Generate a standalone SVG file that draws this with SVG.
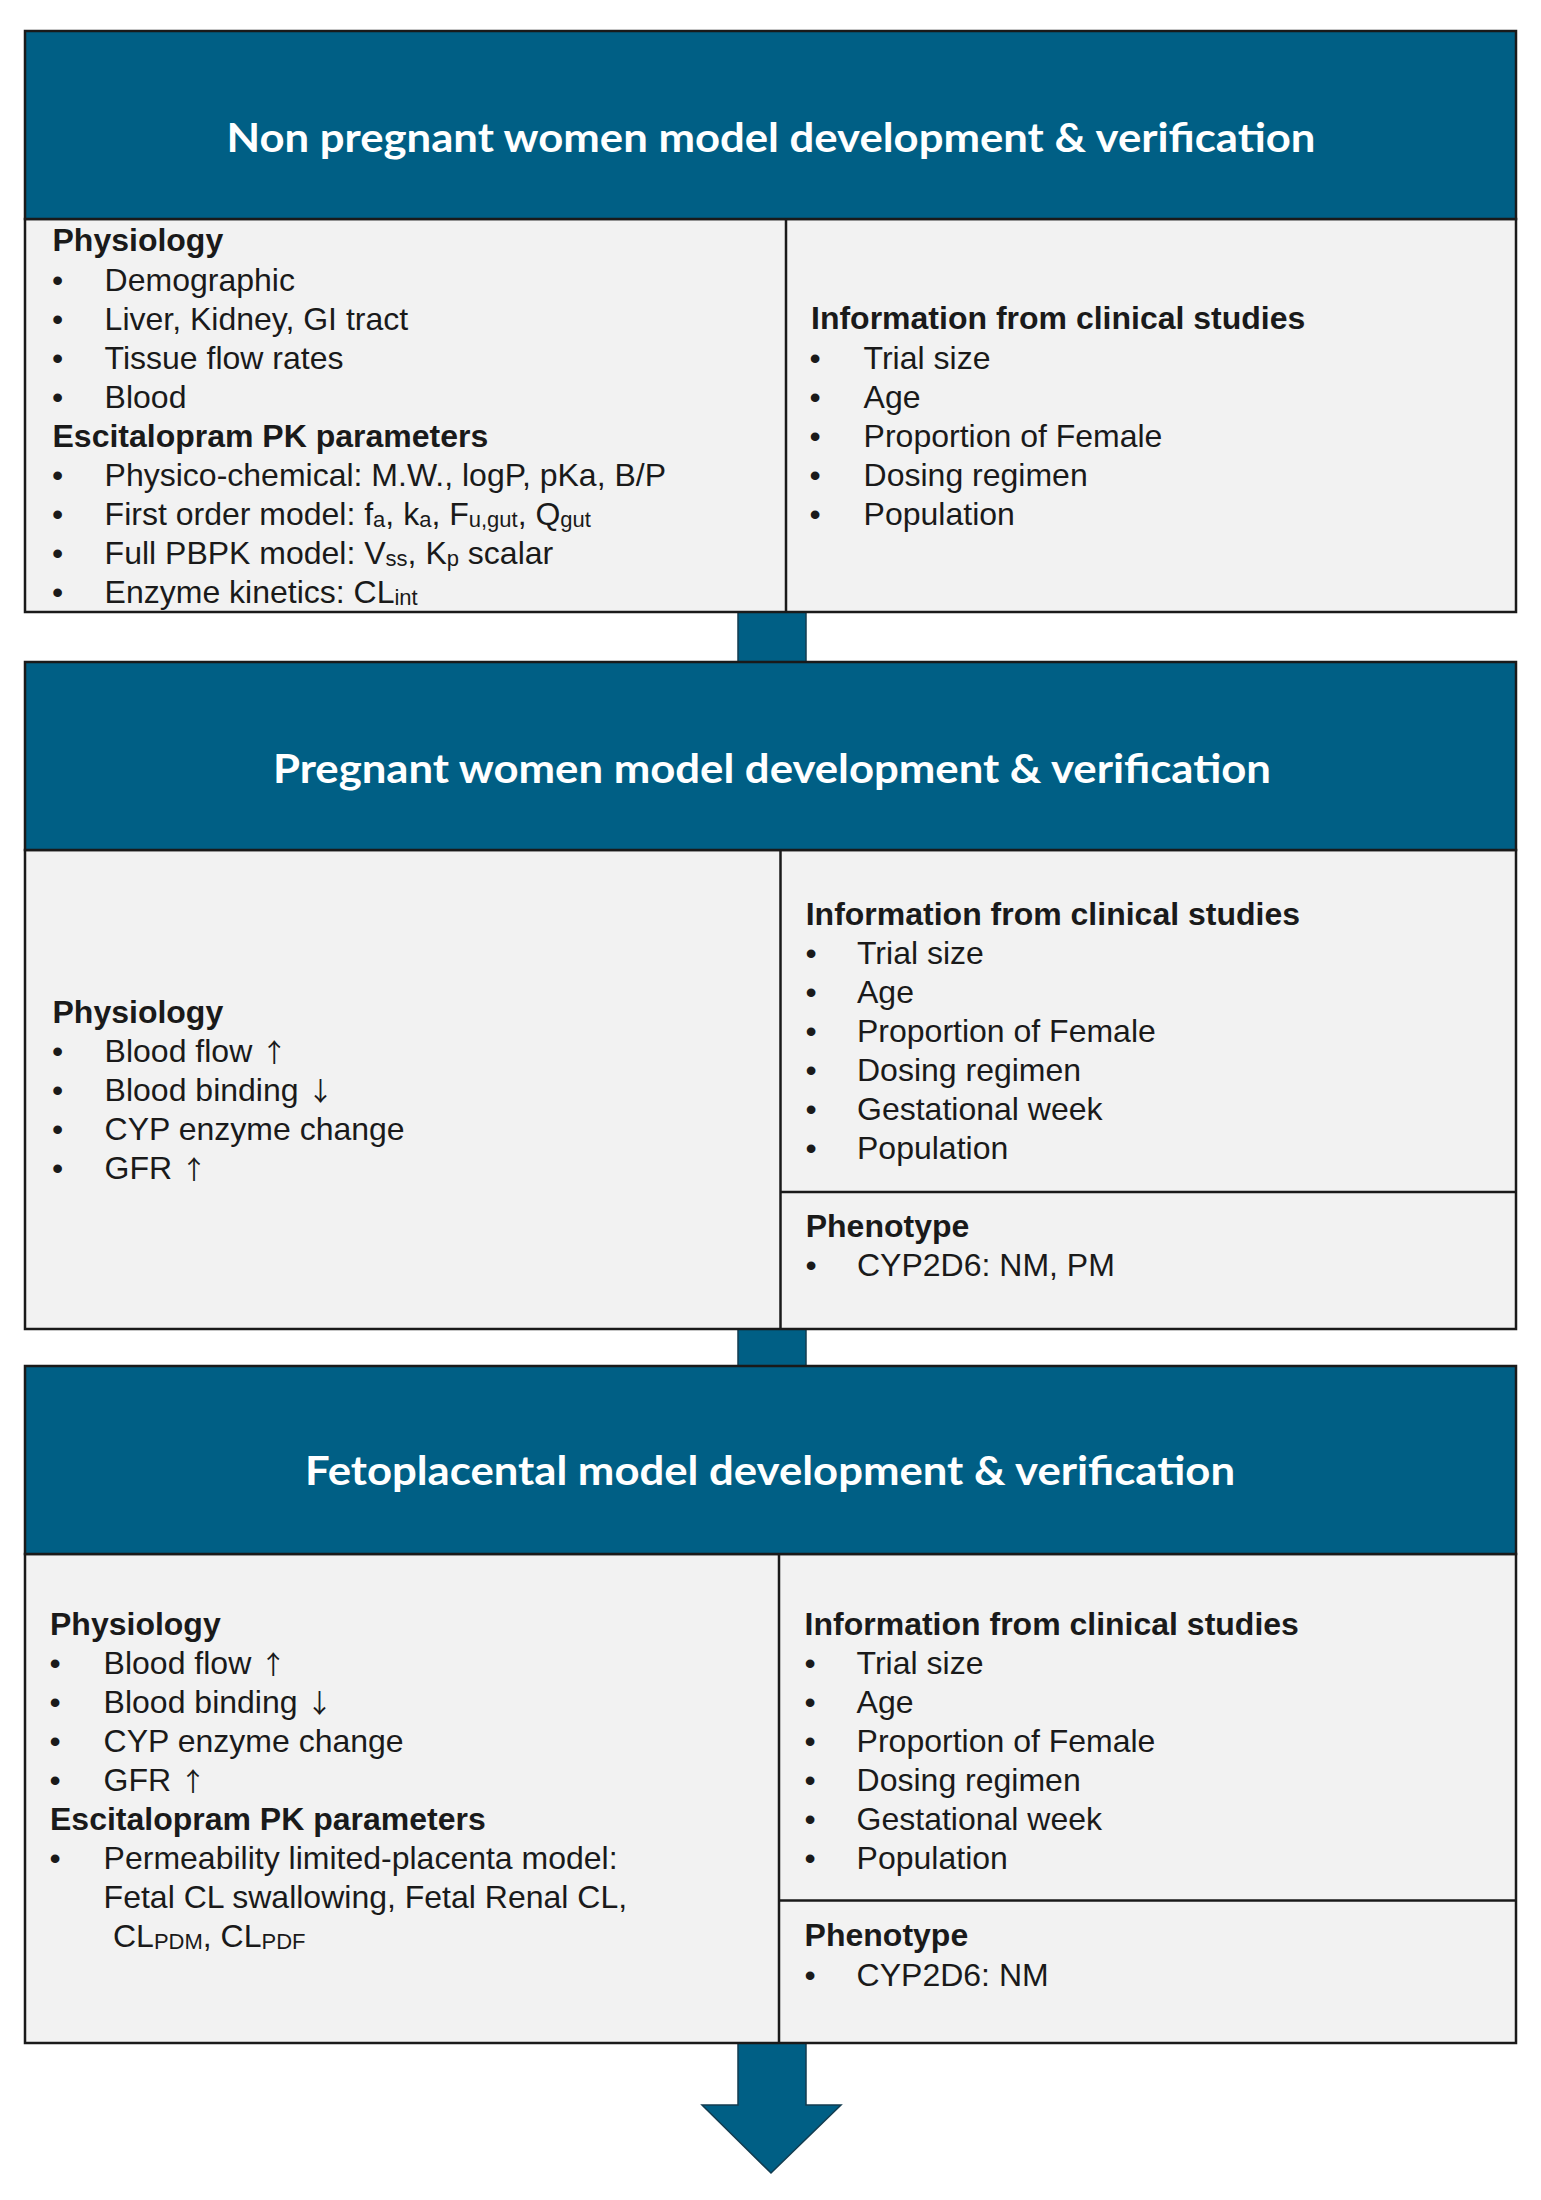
<svg xmlns="http://www.w3.org/2000/svg" width="1541" height="2200" viewBox="0 0 1541 2200">
<style>
.hdr{fill:#005F85;stroke:#1a1a1a;stroke-width:2.5}
.body{fill:#F2F2F2;stroke:#1a1a1a;stroke-width:2.5}
.div{stroke:#1a1a1a;stroke-width:2.5;fill:none}
.title{font-family:Lato,"Open Sans",sans-serif;font-weight:bold;font-size:41px;fill:#FFFFFF;text-anchor:middle}
.h{font-family:"Liberation Sans",Arial,sans-serif;font-weight:bold;font-size:32px;fill:#1a1a1a}
.t{font-family:"Liberation Sans",Arial,sans-serif;font-size:32px;fill:#1a1a1a}
.s{font-size:22px}
.ar{font-family:"Noto Sans CJK JP","Liberation Sans",sans-serif;font-size:26px}
.conn{fill:#005F85;stroke:#123c50;stroke-width:1.5}
</style>
<rect width="1541" height="2200" fill="#FFFFFF"/>

<g id="connectors">
<rect class="conn" x="738" y="612" width="68" height="50"/>
<rect class="conn" x="738" y="1329" width="68" height="37"/>
<polygon class="conn" points="738,2043 806,2043 806,2105 841,2105 771,2173 702,2105 738,2105"/>
</g>

<g id="node-nonpregnant">
<rect class="body" x="25" y="219" width="1491" height="393"/>
<rect class="hdr" x="25" y="31" width="1491" height="188"/>
<line class="div" x1="786" y1="219" x2="786" y2="612"/>
<text class="title" x="771" y="152" textLength="1089" lengthAdjust="spacingAndGlyphs">Non pregnant women model development &amp; verification</text>
<text class="h" x="52.5" y="251">Physiology</text>
<text class="t" x="52" y="290.5">•</text><text class="t" x="104.6" y="290.5">Demographic</text>
<text class="t" x="52" y="330">•</text><text class="t" x="104.6" y="330">Liver, Kidney, GI tract</text>
<text class="t" x="52" y="369">•</text><text class="t" x="104.6" y="369">Tissue flow rates</text>
<text class="t" x="52" y="408">•</text><text class="t" x="104.6" y="408">Blood</text>
<text class="h" x="52.5" y="447">Escitalopram PK parameters</text>
<text class="t" x="52" y="486">•</text><text class="t" x="104.6" y="486">Physico-chemical: M.W., logP, pKa, B/P</text>
<text class="t" x="52" y="525">•</text><text class="t" x="104.6" y="525">First order model: f<tspan class="s" dy="2">a</tspan><tspan dy="-2">, k</tspan><tspan class="s" dy="2">a</tspan><tspan dy="-2">, F</tspan><tspan class="s" dy="2">u,gut</tspan><tspan dy="-2">, Q</tspan><tspan class="s" dy="2">gut</tspan></text>
<text class="t" x="52" y="564">•</text><text class="t" x="104.6" y="564">Full PBPK model: V<tspan class="s" dy="2">ss</tspan><tspan dy="-2">, K</tspan><tspan class="s" dy="2">p</tspan><tspan dy="-2"> scalar</tspan></text>
<text class="t" x="52" y="603">•</text><text class="t" x="104.6" y="603">Enzyme kinetics: CL<tspan class="s" dy="2">int</tspan></text>
<text class="h" x="811" y="329">Information from clinical studies</text>
<text class="t" x="809.5" y="369">•</text><text class="t" x="863.6" y="369">Trial size</text>
<text class="t" x="809.5" y="408">•</text><text class="t" x="863.6" y="408">Age</text>
<text class="t" x="809.5" y="447">•</text><text class="t" x="863.6" y="447">Proportion of Female</text>
<text class="t" x="809.5" y="486">•</text><text class="t" x="863.6" y="486">Dosing regimen</text>
<text class="t" x="809.5" y="525">•</text><text class="t" x="863.6" y="525">Population</text>
</g>

<g id="node-pregnant">
<rect class="body" x="25" y="850" width="1491" height="479"/>
<rect class="hdr" x="25" y="662" width="1491" height="188"/>
<line class="div" x1="780.5" y1="850" x2="780.5" y2="1329"/>
<line class="div" x1="780.5" y1="1192" x2="1516" y2="1192"/>
<text class="title" x="772" y="783" textLength="998" lengthAdjust="spacingAndGlyphs">Pregnant women model development &amp; verification</text>
<text class="h" x="52.5" y="1023">Physiology</text>
<text class="t" x="52" y="1061.5">•</text><text class="t" x="104.6" y="1061.5">Blood flow <tspan class="ar">↑</tspan></text>
<text class="t" x="52" y="1100.5">•</text><text class="t" x="104.6" y="1100.5">Blood binding <tspan class="ar">↓</tspan></text>
<text class="t" x="52" y="1139.5">•</text><text class="t" x="104.6" y="1139.5">CYP enzyme change</text>
<text class="t" x="52" y="1178.5">•</text><text class="t" x="104.6" y="1178.5">GFR <tspan class="ar">↑</tspan></text>
<text class="h" x="805.7" y="925">Information from clinical studies</text>
<text class="t" x="805.5" y="963.5">•</text><text class="t" x="857" y="963.5">Trial size</text>
<text class="t" x="805.5" y="1002.5">•</text><text class="t" x="857" y="1002.5">Age</text>
<text class="t" x="805.5" y="1042">•</text><text class="t" x="857" y="1042">Proportion of Female</text>
<text class="t" x="805.5" y="1081">•</text><text class="t" x="857" y="1081">Dosing regimen</text>
<text class="t" x="805.5" y="1120">•</text><text class="t" x="857" y="1120">Gestational week</text>
<text class="t" x="805.5" y="1159">•</text><text class="t" x="857" y="1159">Population</text>
<text class="h" x="805.7" y="1237">Phenotype</text>
<text class="t" x="805.5" y="1276">•</text><text class="t" x="857" y="1276">CYP2D6: NM, PM</text>
</g>

<g id="node-fetoplacental">
<rect class="body" x="25" y="1554" width="1491" height="489"/>
<rect class="hdr" x="25" y="1366" width="1491" height="188"/>
<line class="div" x1="779" y1="1554" x2="779" y2="2043"/>
<line class="div" x1="779" y1="1900.5" x2="1516" y2="1900.5"/>
<text class="title" x="770" y="1485" textLength="930" lengthAdjust="spacingAndGlyphs">Fetoplacental model development &amp; verification</text>
<text class="h" x="50" y="1635">Physiology</text>
<text class="t" x="49.5" y="1674">•</text><text class="t" x="103.6" y="1674">Blood flow <tspan class="ar">↑</tspan></text>
<text class="t" x="49.5" y="1713">•</text><text class="t" x="103.6" y="1713">Blood binding <tspan class="ar">↓</tspan></text>
<text class="t" x="49.5" y="1752">•</text><text class="t" x="103.6" y="1752">CYP enzyme change</text>
<text class="t" x="49.5" y="1790.5">•</text><text class="t" x="103.6" y="1790.5">GFR <tspan class="ar">↑</tspan></text>
<text class="h" x="50" y="1829.5">Escitalopram PK parameters</text>
<text class="t" x="49.5" y="1868.5">•</text><text class="t" x="103.6" y="1868.5">Permeability limited-placenta model:</text>
<text class="t" x="103.6" y="1908">Fetal CL swallowing, Fetal Renal CL,</text>
<text class="t" x="113" y="1947">CL<tspan class="s" dy="2">PDM</tspan><tspan dy="-2">, CL</tspan><tspan class="s" dy="2">PDF</tspan></text>
<text class="h" x="804.6" y="1635">Information from clinical studies</text>
<text class="t" x="804.5" y="1674">•</text><text class="t" x="856.6" y="1674">Trial size</text>
<text class="t" x="804.5" y="1713">•</text><text class="t" x="856.6" y="1713">Age</text>
<text class="t" x="804.5" y="1752">•</text><text class="t" x="856.6" y="1752">Proportion of Female</text>
<text class="t" x="804.5" y="1790.5">•</text><text class="t" x="856.6" y="1790.5">Dosing regimen</text>
<text class="t" x="804.5" y="1829.5">•</text><text class="t" x="856.6" y="1829.5">Gestational week</text>
<text class="t" x="804.5" y="1868.5">•</text><text class="t" x="856.6" y="1868.5">Population</text>
<text class="h" x="804.6" y="1946">Phenotype</text>
<text class="t" x="804.5" y="1986">•</text><text class="t" x="856.6" y="1986">CYP2D6: NM</text>
</g>
</svg>
